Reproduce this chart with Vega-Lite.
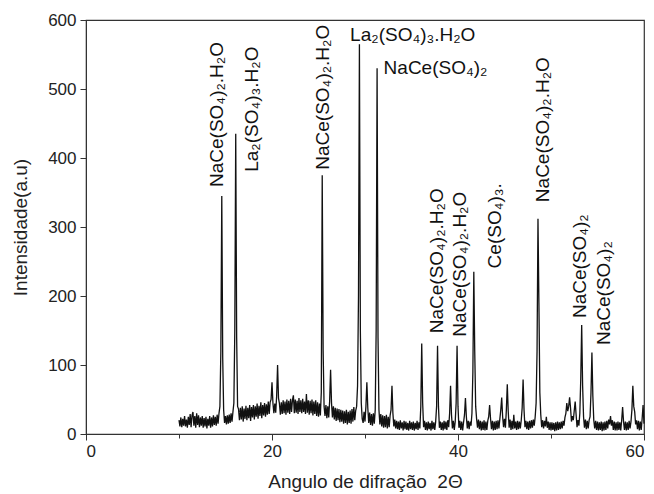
{
"$schema": "https://vega.github.io/schema/vega-lite/v6.json",
"autosize": {"type": "none"},
"padding": {"left": 86, "top": 20, "right": 10, "bottom": 60},
"width": 558,
"height": 414,
"background": "white",
"config": {"font": "Liberation Sans", "view": {"stroke": "#333", "strokeWidth": 1.2}},
"datasets": {
"xrd": [
{"x":10.0,"y":20},{"x":10.1,"y":11},{"x":10.2,"y":24},{"x":10.3,"y":10},{"x":10.4,"y":22},{"x":10.5,"y":12},{"x":10.6,"y":26},{"x":10.7,"y":11},{"x":10.8,"y":21},{"x":10.9,"y":9},
{"x":11.0,"y":25},{"x":11.1,"y":13},{"x":11.2,"y":29},{"x":11.3,"y":10},{"x":11.4,"y":27},{"x":11.5,"y":32},{"x":11.6,"y":12},{"x":11.7,"y":26},{"x":11.8,"y":9},{"x":11.9,"y":30},
{"x":12.0,"y":13},{"x":12.1,"y":27},{"x":12.2,"y":10},{"x":12.3,"y":24},{"x":12.4,"y":12},{"x":12.5,"y":26},{"x":12.6,"y":9},{"x":12.7,"y":23},{"x":12.8,"y":11},{"x":12.9,"y":25},
{"x":13.0,"y":8},{"x":13.1,"y":22},{"x":13.2,"y":12},{"x":13.3,"y":26},{"x":13.4,"y":9},{"x":13.5,"y":24},{"x":13.6,"y":11},{"x":13.7,"y":27},{"x":13.8,"y":13},{"x":13.9,"y":25},
{"x":14.0,"y":12},{"x":14.1,"y":28},{"x":14.2,"y":15},{"x":14.3,"y":30},{"x":14.4,"y":40},{"x":14.5,"y":120},{"x":14.6,"y":345},{"x":14.7,"y":110},{"x":14.8,"y":35},{"x":14.9,"y":16},
{"x":15.0,"y":26},{"x":15.1,"y":14},{"x":15.2,"y":27},{"x":15.3,"y":15},{"x":15.4,"y":28},{"x":15.5,"y":16},{"x":15.6,"y":30},{"x":15.7,"y":18},{"x":15.8,"y":32},{"x":15.9,"y":45},
{"x":16.0,"y":150},{"x":16.1,"y":435},{"x":16.2,"y":140},{"x":16.3,"y":40},{"x":16.4,"y":36},{"x":16.5,"y":20},{"x":16.6,"y":38},{"x":16.7,"y":21},{"x":16.8,"y":40},{"x":16.9,"y":18},
{"x":17.0,"y":37},{"x":17.1,"y":22},{"x":17.2,"y":41},{"x":17.3,"y":20},{"x":17.4,"y":38},{"x":17.5,"y":23},{"x":17.6,"y":42},{"x":17.7,"y":19},{"x":17.8,"y":39},{"x":17.9,"y":24},
{"x":18.0,"y":42},{"x":18.1,"y":21},{"x":18.2,"y":40},{"x":18.3,"y":25},{"x":18.4,"y":44},{"x":18.5,"y":22},{"x":18.6,"y":41},{"x":18.7,"y":26},{"x":18.8,"y":46},{"x":18.9,"y":23},
{"x":19.0,"y":42},{"x":19.1,"y":27},{"x":19.2,"y":45},{"x":19.3,"y":25},{"x":19.4,"y":43},{"x":19.5,"y":28},{"x":19.6,"y":47},{"x":19.7,"y":29},{"x":19.8,"y":46},{"x":19.9,"y":50},
{"x":20.0,"y":75},{"x":20.1,"y":45},{"x":20.2,"y":30},{"x":20.3,"y":44},{"x":20.4,"y":31},{"x":20.5,"y":55},{"x":20.6,"y":100},{"x":20.7,"y":52},{"x":20.8,"y":44},{"x":20.9,"y":28},
{"x":21.0,"y":46},{"x":21.1,"y":29},{"x":21.2,"y":49},{"x":21.3,"y":30},{"x":21.4,"y":47},{"x":21.5,"y":28},{"x":21.6,"y":50},{"x":21.7,"y":31},{"x":21.8,"y":48},{"x":21.9,"y":29},
{"x":22.0,"y":51},{"x":22.1,"y":32},{"x":22.2,"y":49},{"x":22.3,"y":56},{"x":22.4,"y":30},{"x":22.5,"y":50},{"x":22.6,"y":31},{"x":22.7,"y":48},{"x":22.8,"y":29},{"x":22.9,"y":52},
{"x":23.0,"y":32},{"x":23.1,"y":49},{"x":23.2,"y":30},{"x":23.3,"y":51},{"x":23.4,"y":32},{"x":23.5,"y":47},{"x":23.6,"y":29},{"x":23.7,"y":58},{"x":23.8,"y":31},{"x":23.9,"y":49},
{"x":24.0,"y":28},{"x":24.1,"y":48},{"x":24.2,"y":30},{"x":24.3,"y":50},{"x":24.4,"y":27},{"x":24.5,"y":47},{"x":24.6,"y":29},{"x":24.7,"y":49},{"x":24.8,"y":26},{"x":24.9,"y":46},
{"x":25.0,"y":25},{"x":25.1,"y":44},{"x":25.2,"y":27},{"x":25.3,"y":60},{"x":25.4,"y":375},{"x":25.5,"y":120},{"x":25.6,"y":40},{"x":25.7,"y":26},{"x":25.8,"y":42},{"x":25.9,"y":23},
{"x":26.0,"y":40},{"x":26.1,"y":24},{"x":26.2,"y":48},{"x":26.3,"y":93},{"x":26.4,"y":45},{"x":26.5,"y":24},{"x":26.6,"y":40},{"x":26.7,"y":21},{"x":26.8,"y":38},{"x":26.9,"y":19},
{"x":27.0,"y":37},{"x":27.1,"y":20},{"x":27.2,"y":36},{"x":27.3,"y":17},{"x":27.4,"y":35},{"x":27.5,"y":18},{"x":27.6,"y":34},{"x":27.7,"y":15},{"x":27.8,"y":33},{"x":27.9,"y":16},
{"x":28.0,"y":35},{"x":28.1,"y":14},{"x":28.2,"y":32},{"x":28.3,"y":16},{"x":28.4,"y":34},{"x":28.5,"y":15},{"x":28.6,"y":36},{"x":28.7,"y":18},{"x":28.8,"y":39},{"x":28.9,"y":20},
{"x":29.0,"y":34},{"x":29.1,"y":40},{"x":29.2,"y":70},{"x":29.3,"y":200},{"x":29.4,"y":565},{"x":29.5,"y":150},{"x":29.6,"y":45},{"x":29.7,"y":22},{"x":29.8,"y":16},{"x":29.9,"y":32},
{"x":30.0,"y":18},{"x":30.1,"y":40},{"x":30.2,"y":75},{"x":30.3,"y":38},{"x":30.4,"y":16},{"x":30.5,"y":31},{"x":30.6,"y":13},{"x":30.7,"y":29},{"x":30.8,"y":12},{"x":30.9,"y":30},
{"x":31.0,"y":15},{"x":31.1,"y":35},{"x":31.2,"y":150},{"x":31.3,"y":530},{"x":31.4,"y":140},{"x":31.5,"y":35},{"x":31.6,"y":14},{"x":31.7,"y":29},{"x":31.8,"y":11},{"x":31.9,"y":27},
{"x":32.0,"y":9},{"x":32.1,"y":26},{"x":32.2,"y":10},{"x":32.3,"y":28},{"x":32.4,"y":8},{"x":32.5,"y":25},{"x":32.6,"y":10},{"x":32.7,"y":27},{"x":32.8,"y":35},{"x":32.9,"y":70},
{"x":33.0,"y":30},{"x":33.1,"y":11},{"x":33.2,"y":21},{"x":33.3,"y":8},{"x":33.4,"y":19},{"x":33.5,"y":7},{"x":33.6,"y":18},{"x":33.7,"y":6},{"x":33.8,"y":20},{"x":33.9,"y":8},
{"x":34.0,"y":17},{"x":34.1,"y":5},{"x":34.2,"y":19},{"x":34.3,"y":7},{"x":34.4,"y":18},{"x":34.5,"y":6},{"x":34.6,"y":16},{"x":34.7,"y":5},{"x":34.8,"y":19},{"x":34.9,"y":7},
{"x":35.0,"y":17},{"x":35.1,"y":6},{"x":35.2,"y":18},{"x":35.3,"y":5},{"x":35.4,"y":16},{"x":35.5,"y":7},{"x":35.6,"y":19},{"x":35.7,"y":6},{"x":35.8,"y":17},{"x":35.9,"y":8},
{"x":36.0,"y":40},{"x":36.1,"y":131},{"x":36.2,"y":45},{"x":36.3,"y":10},{"x":36.4,"y":19},{"x":36.5,"y":6},{"x":36.6,"y":17},{"x":36.7,"y":5},{"x":36.8,"y":18},{"x":36.9,"y":7},
{"x":37.0,"y":16},{"x":37.1,"y":5},{"x":37.2,"y":19},{"x":37.3,"y":7},{"x":37.4,"y":17},{"x":37.5,"y":6},{"x":37.6,"y":18},{"x":37.7,"y":40},{"x":37.8,"y":128},{"x":37.9,"y":40},
{"x":38.0,"y":9},{"x":38.1,"y":18},{"x":38.2,"y":6},{"x":38.3,"y":17},{"x":38.4,"y":5},{"x":38.5,"y":19},{"x":38.6,"y":7},{"x":38.7,"y":18},{"x":38.8,"y":6},{"x":38.9,"y":20},
{"x":39.0,"y":10},{"x":39.1,"y":30},{"x":39.2,"y":70},{"x":39.3,"y":28},{"x":39.4,"y":8},{"x":39.5,"y":19},{"x":39.6,"y":6},{"x":39.7,"y":18},{"x":39.8,"y":45},{"x":39.9,"y":128},
{"x":40.0,"y":40},{"x":40.1,"y":9},{"x":40.2,"y":19},{"x":40.3,"y":6},{"x":40.4,"y":18},{"x":40.5,"y":5},{"x":40.6,"y":17},{"x":40.7,"y":28},{"x":40.8,"y":52},{"x":40.9,"y":25},
{"x":41.0,"y":8},{"x":41.1,"y":19},{"x":41.2,"y":7},{"x":41.3,"y":18},{"x":41.4,"y":12},{"x":41.5,"y":30},{"x":41.6,"y":90},{"x":41.7,"y":235},{"x":41.8,"y":120},{"x":41.9,"y":40},
{"x":42.0,"y":22},{"x":42.1,"y":9},{"x":42.2,"y":21},{"x":42.3,"y":7},{"x":42.4,"y":19},{"x":42.5,"y":5},{"x":42.6,"y":18},{"x":42.7,"y":6},{"x":42.8,"y":20},{"x":42.9,"y":5},
{"x":43.0,"y":18},{"x":43.1,"y":6},{"x":43.2,"y":19},{"x":43.3,"y":25},{"x":43.4,"y":42},{"x":43.5,"y":22},{"x":43.6,"y":7},{"x":43.7,"y":19},{"x":43.8,"y":5},{"x":43.9,"y":18},
{"x":44.0,"y":6},{"x":44.1,"y":19},{"x":44.2,"y":7},{"x":44.3,"y":20},{"x":44.4,"y":8},{"x":44.5,"y":22},{"x":44.6,"y":35},{"x":44.7,"y":53},{"x":44.8,"y":25},{"x":44.9,"y":10},
{"x":45.0,"y":22},{"x":45.1,"y":9},{"x":45.2,"y":35},{"x":45.3,"y":72},{"x":45.4,"y":33},{"x":45.5,"y":9},{"x":45.6,"y":21},{"x":45.7,"y":6},{"x":45.8,"y":19},{"x":45.9,"y":7},
{"x":46.0,"y":28},{"x":46.1,"y":8},{"x":46.2,"y":18},{"x":46.3,"y":6},{"x":46.4,"y":19},{"x":46.5,"y":7},{"x":46.6,"y":18},{"x":46.7,"y":8},{"x":46.8,"y":20},{"x":46.9,"y":38},
{"x":47.0,"y":79},{"x":47.1,"y":35},{"x":47.2,"y":10},{"x":47.3,"y":19},{"x":47.4,"y":7},{"x":47.5,"y":18},{"x":47.6,"y":6},{"x":47.7,"y":19},{"x":47.8,"y":8},{"x":47.9,"y":20},
{"x":48.0,"y":9},{"x":48.1,"y":21},{"x":48.2,"y":12},{"x":48.3,"y":25},{"x":48.4,"y":45},{"x":48.5,"y":120},{"x":48.6,"y":312},{"x":48.7,"y":190},{"x":48.8,"y":60},{"x":48.9,"y":28},
{"x":49.0,"y":10},{"x":49.1,"y":20},{"x":49.2,"y":8},{"x":49.3,"y":19},{"x":49.4,"y":11},{"x":49.5,"y":25},{"x":49.6,"y":9},{"x":49.7,"y":18},{"x":49.8,"y":6},{"x":49.9,"y":17},
{"x":50.0,"y":5},{"x":50.1,"y":17},{"x":50.2,"y":6},{"x":50.3,"y":16},{"x":50.4,"y":4},{"x":50.5,"y":17},{"x":50.6,"y":5},{"x":50.7,"y":18},{"x":50.8,"y":6},{"x":50.9,"y":17},
{"x":51.0,"y":7},{"x":51.1,"y":18},{"x":51.2,"y":8},{"x":51.3,"y":19},{"x":51.4,"y":12},{"x":51.5,"y":24},{"x":51.6,"y":30},{"x":51.7,"y":45},{"x":51.8,"y":33},{"x":51.9,"y":40},
{"x":52.0,"y":53},{"x":52.1,"y":38},{"x":52.2,"y":18},{"x":52.3,"y":26},{"x":52.4,"y":20},{"x":52.5,"y":34},{"x":52.6,"y":47},{"x":52.7,"y":28},{"x":52.8,"y":10},{"x":52.9,"y":20},
{"x":53.0,"y":12},{"x":53.1,"y":30},{"x":53.2,"y":80},{"x":53.3,"y":158},{"x":53.4,"y":70},{"x":53.5,"y":25},{"x":53.6,"y":9},{"x":53.7,"y":21},{"x":53.8,"y":7},{"x":53.9,"y":19},
{"x":54.0,"y":8},{"x":54.1,"y":20},{"x":54.2,"y":25},{"x":54.3,"y":60},{"x":54.4,"y":118},{"x":54.5,"y":55},{"x":54.6,"y":20},{"x":54.7,"y":8},{"x":54.8,"y":19},{"x":54.9,"y":6},
{"x":55.0,"y":18},{"x":55.1,"y":5},{"x":55.2,"y":17},{"x":55.3,"y":6},{"x":55.4,"y":18},{"x":55.5,"y":4},{"x":55.6,"y":17},{"x":55.7,"y":5},{"x":55.8,"y":18},{"x":55.9,"y":6},
{"x":56.0,"y":19},{"x":56.1,"y":8},{"x":56.2,"y":21},{"x":56.3,"y":14},{"x":56.4,"y":26},{"x":56.5,"y":12},{"x":56.6,"y":20},{"x":56.7,"y":6},{"x":56.8,"y":18},{"x":56.9,"y":5},
{"x":57.0,"y":17},{"x":57.1,"y":5},{"x":57.2,"y":18},{"x":57.3,"y":6},{"x":57.4,"y":17},{"x":57.5,"y":5},{"x":57.6,"y":20},{"x":57.7,"y":39},{"x":57.8,"y":18},{"x":57.9,"y":6},
{"x":58.0,"y":18},{"x":58.1,"y":5},{"x":58.2,"y":17},{"x":58.3,"y":6},{"x":58.4,"y":19},{"x":58.5,"y":8},{"x":58.6,"y":18},{"x":58.7,"y":35},{"x":58.8,"y":70},{"x":58.9,"y":40},
{"x":59.0,"y":32},{"x":59.1,"y":14},{"x":59.2,"y":20},{"x":59.3,"y":7},{"x":59.4,"y":19},{"x":59.5,"y":5},{"x":59.6,"y":18},{"x":59.7,"y":6},{"x":59.8,"y":22},{"x":59.9,"y":42},
{"x":60.0,"y":15}
],
"vlabels": [
{"x":14.05,"y":358,"text":"NaCe(SO₄)₂.H₂O"},
{"x":17.8,"y":380,"text":"La₂(SO₄)₃.H₂O"},
{"x":25.48,"y":383,"text":"NaCe(SO₄)₂.H₂O"},
{"x":37.7,"y":146,"text":"NaCe(SO₄)₂.H₂O"},
{"x":40.2,"y":141,"text":"NaCe(SO₄)₂.H₂O"},
{"x":44.0,"y":240,"text":"Ce(SO₄)₃."},
{"x":49.1,"y":336,"text":"NaCe(SO₄)₂.H₂O"},
{"x":53.1,"y":168,"text":"NaCe(SO₄)₂"},
{"x":55.7,"y":129,"text":"NaCe(SO₄)₂"}
],
"hlabels": [
{"x":28.4,"y":578,"text":"La₂(SO₄)₃.H₂O"},
{"x":32.0,"y":530,"text":"NaCe(SO₄)₂"}
]
},
"layer": [
{
"data": {"name": "xrd"},
"mark": {"type": "line", "color": "#111", "strokeWidth": 1.3},
"encoding": {
"x": {"field": "x", "type": "quantitative", "scale": {"domain": [0, 60], "nice": false},
"axis": {"title": "Angulo de difração\u00a0\u00a02Θ", "values": [0,10,20,30,40,50,60],
"labelExpr": "datum.value % 20 === 0 ? datum.label : ''",
"grid": false, "domainColor": "#333", "tickColor": "#333",
"tickSize": {"condition": {"test": "datum.value % 20 !== 0", "value": 4}, "value": 6},
"labelFontSize": 17, "labelColor": "#222", "labelPadding": 3,
"titleFontSize": 19, "titleFontWeight": "normal", "titleColor": "#222", "titlePadding": 13}},
"y": {"field": "y", "type": "quantitative", "scale": {"domain": [0, 600], "nice": false},
"axis": {"title": "Intensidade(a.u)", "values": [0,50,100,150,200,250,300,350,400,450,500,550,600],
"labelExpr": "datum.value % 100 === 0 ? datum.label : ''",
"grid": false, "domainColor": "#333", "tickColor": "#333",
"tickSize": {"condition": {"test": "datum.value % 100 !== 0", "value": 4}, "value": 6},
"labelFontSize": 17, "labelColor": "#222", "labelPadding": 4,
"titleFontSize": 19, "titleFontWeight": "normal", "titleColor": "#222", "titlePadding": 17}}
}
},
{
"data": {"name": "vlabels"},
"mark": {"type": "text", "angle": 270, "align": "left", "baseline": "middle", "fontSize": 19, "color": "#111"},
"encoding": {
"x": {"field": "x", "type": "quantitative"},
"y": {"field": "y", "type": "quantitative"},
"text": {"field": "text"}
}
},
{
"data": {"name": "hlabels"},
"mark": {"type": "text", "align": "left", "baseline": "middle", "fontSize": 19, "color": "#111"},
"encoding": {
"x": {"field": "x", "type": "quantitative"},
"y": {"field": "y", "type": "quantitative"},
"text": {"field": "text"}
}
}
]
}
